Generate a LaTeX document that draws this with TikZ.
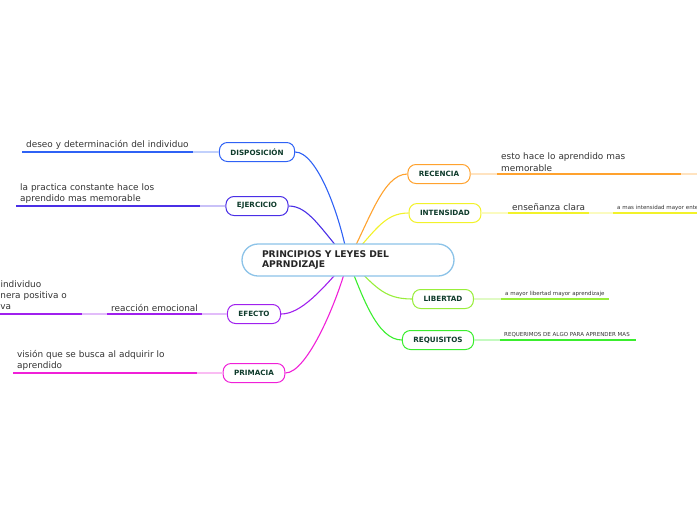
\documentclass[tikz,border=0pt]{standalone}
\usepackage{fontspec}
\setmainfont{DejaVu Sans}
\usetikzlibrary{backgrounds}
\definecolor{croot}{HTML}{8CC3E8}
\definecolor{ctxt}{HTML}{0E3B2B}
\definecolor{cdisp}{HTML}{2F62F5}
\definecolor{cejer}{HTML}{4A2FE6}
\definecolor{cefec}{HTML}{A020EE}
\definecolor{cprim}{HTML}{F020D8}
\definecolor{crec}{HTML}{FFA22E}
\definecolor{cint}{HTML}{F2F22A}
\definecolor{clib}{HTML}{98EE3A}
\definecolor{creq}{HTML}{3AEE2E}

\begin{document}
\begin{tikzpicture}[x=1pt,y=-1pt,
 root/.style={draw=croot,line width=1.3pt,rounded corners=16pt,fill=white,minimum height=32pt,text width=172pt,inner xsep=20pt,align=left,font=\bfseries\fontsize{9.2}{10}\selectfont,text=black!85},
 topic/.style={draw=#1,line width=1pt,rounded corners=8pt,fill=white,minimum height=19pt,inner xsep=11pt,font=\bfseries\fontsize{7.2}{8}\selectfont,text=ctxt},
 leaf/.style={anchor=south west,align=left,inner xsep=4pt,inner ysep=2.5pt,font=\fontsize{8.9}{11.2}\selectfont,text=black!80},
 note/.style={leaf,font=\fontsize{5.5}{6.5}\selectfont},
 link/.style={draw=#1,line width=1.1pt},
 under/.style={draw=#1,line width=1.5pt},
 fade/.style={draw=#1!30,line width=1.5pt}]
\useasboundingbox (0,0) rectangle (697,520);
\node[root] (root) at (348,260) {PRINCIPIOS Y LEYES DEL\\APRNDIZAJE};
\node[topic=cdisp] (disp) at (257,152) {DISPOSICIÓN};
\node[topic=cejer] (ejer) at (257,206) {EJERCICIO};
\node[topic=cefec] (efec) at (254,314) {EFECTO};
\node[topic=cprim] (prim) at (254,373) {PRIMACIA};
\node[topic=crec] (rec) at (439,174) {RECENCIA};
\node[topic=cint] (int) at (445,213) {INTENSIDAD};
\node[topic=clib] (lib) at (443,299) {LIBERTAD};
\node[topic=creq] (req) at (438,340) {REQUISITOS};
\node[leaf,text width=163pt] (dispt) at (22,152) {deseo y determinación del individuo};
\node[leaf,text width=176pt] (ejert) at (16,206) {la practica constante hace los\\aprendido mas memorable};
\node[leaf,text width=87pt] (efect) at (107,314) {reacción emocional};
\node[leaf,text width=106pt] (efect2) at (-32,314) {de un individuo\\de manera positiva o\\negativa};
\node[leaf,text width=176pt] (primt) at (13,373) {visión que se busca al adquirir lo\\aprendido};
\node[leaf,text width=176pt] (rect) at (497,174) {esto hace lo aprendido mas\\memorable};
\coordinate (recnext) at (720,174);
\node[leaf,text width=73pt] (intt) at (508,213) {enseñanza clara};
\node[note,text width=140pt] (intt2) at (613,213) {a mas intensidad mayor entendimiento};
\node[note,text width=100pt] (libt) at (501,299) {a mayor libertad mayor aprendizaje};
\node[note,text width=128pt] (reqt) at (500,340) {REQUERIMOS DE ALGO PARA APRENDER MAS};
\begin{scope}[on background layer]
\draw[link=cdisp] (disp.east) .. controls +(22,0) and (340,215) .. (root.center);
\draw[link=cejer] (ejer.east) .. controls +(20,0) and (320,228) .. (root.center);
\draw[link=cefec] (efec.east) .. controls +(20,0) and (322,290) .. (root.center);
\draw[link=cprim] (prim.east) .. controls +(22,0) and (338,300) .. (root.center);
\draw[link=crec] (rec.west) .. controls +(-25,0) and (368,225) .. (root.center);
\draw[link=cint] (int.west) .. controls +(-25,0) and (375,232) .. (root.center);
\draw[link=clib] (lib.west) .. controls +(-30,0) and (375,285) .. (root.center);
\draw[link=creq] (req.west) .. controls +(-25,0) and (362,295) .. (root.center);
\end{scope}
\draw[under=cdisp] (dispt.south west) -- (dispt.south east);
\draw[fade=cdisp] (dispt.south east) -- (disp.west);
\draw[under=cejer] (ejert.south west) -- (ejert.south east);
\draw[fade=cejer] (ejert.south east) -- (ejer.west);
\draw[under=cefec] (efect.south west) -- (efect.south east);
\draw[fade=cefec] (efect.south east) -- (efec.west);
\draw[under=cefec] (efect2.south west) -- (efect2.south east);
\draw[fade=cefec] (efect2.south east) -- (efect.south west);
\draw[under=cprim] (primt.south west) -- (primt.south east);
\draw[fade=cprim] (primt.south east) -- (prim.west);
\draw[fade=crec] (rec.east) -- (rect.south west);
\draw[under=crec] (rect.south west) -- (rect.south east);
\draw[fade=crec] (rect.south east) -- (recnext);
\draw[fade=cint] (int.east) -- (intt.south west);
\draw[under=cint] (intt.south west) -- (intt.south east);
\draw[fade=cint] (intt.south east) -- (intt2.south west);
\draw[under=cint] (intt2.south west) -- (intt2.south east);
\draw[fade=clib] (lib.east) -- (libt.south west);
\draw[under=clib] (libt.south west) -- (libt.south east);
\draw[fade=creq] (req.east) -- (reqt.south west);
\draw[under=creq] (reqt.south west) -- (reqt.south east);
\end{tikzpicture}
\end{document}
